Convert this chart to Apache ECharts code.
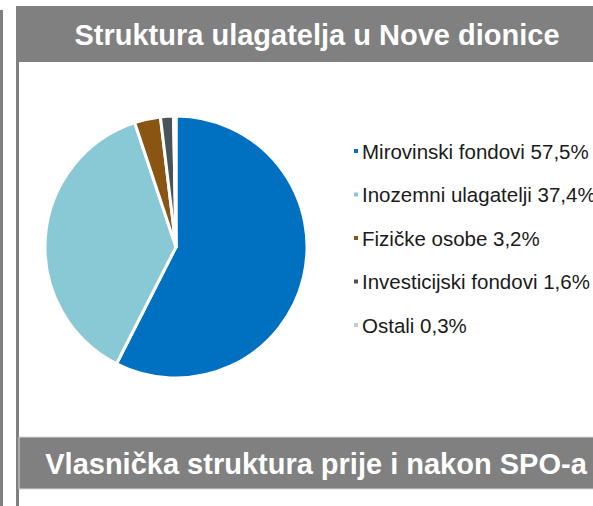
<!DOCTYPE html>
<html>
<head>
<meta charset="utf-8">
<script src="https://cdn.jsdelivr.net/npm/echarts@6/dist/echarts.min.js"></script>
<style>
html,body{margin:0;padding:0;background:#fff;}
#chart{width:593px;height:506px;}
</style>
</head>
<body>
<div id="chart"></div>
<script>
var categories = ['Mirovinski fondovi', 'Inozemni ulagatelji', 'Fizičke osobe', 'Investicijski fondovi', 'Ostali'];
var values = [57.5, 37.4, 3.2, 1.6, 0.3];
var colors = ['#0070C0', '#89C8D5', '#8A5412', '#4A5358', '#C9CCCE'];
var titleTop = 'Struktura ulagatelja u Nove dionice';
var titleBottom = 'Vlasnička struktura prije i nakon SPO-a';

var chart = echarts.init(document.getElementById('chart'), null, {renderer: 'svg'});
var data = categories.map(function (c, i) { return {name: c, value: values[i]}; });
function fmtPct(v) { return v.toFixed(1).replace('.', ',') + '%'; }

chart.setOption({
  animation: false,
  color: colors,
  graphic: [
    {type: 'rect', shape: {x: 0, y: 10, width: 3, height: 500}, style: {fill: '#808080'}},
    {type: 'rect', shape: {x: 16, y: 6, width: 3, height: 500}, style: {fill: '#808080'}},
    {type: 'rect', shape: {x: 16, y: 6, width: 600, height: 56}, style: {fill: '#808080'}},
    {type: 'rect', shape: {x: 19, y: 437, width: 600, height: 52}, style: {fill: '#808080', stroke: '#d9d9d9', lineWidth: 1}},
    {type: 'text', x: 317, y: 35, style: {text: titleTop, fill: '#ffffff', font: 'bold 29px "Liberation Sans", Arial, sans-serif', textAlign: 'center', textVerticalAlign: 'middle'}},
    {type: 'text', x: 316, y: 464, style: {text: titleBottom, fill: '#ffffff', font: 'bold 29px "Liberation Sans", Arial, sans-serif', textAlign: 'center', textVerticalAlign: 'middle'}}
  ],
  legend: {
    orient: 'vertical',
    left: 347,
    top: 135,
    itemWidth: 6,
    itemHeight: 6,
    itemGap: 21.5,
    icon: 'rect',
    textStyle: {fontFamily: '"Liberation Sans", Arial, sans-serif', fontSize: 20.5, lineHeight: 22, color: '#1a1a1a', padding: [0, 0, 0, -2]},
    formatter: function (name) {
      var i = categories.indexOf(name);
      return name + ' ' + fmtPct(values[i]);
    },
    data: categories
  },
  series: [{
    type: 'pie',
    center: [176, 247],
    radius: [0, 131],
    startAngle: 90,
    clockwise: true,
    label: {show: false},
    labelLine: {show: false},
    itemStyle: {borderColor: '#ffffff', borderWidth: 3},
    emphasis: {disabled: true},
    data: data
  }]
});
</script>
</body>
</html>
